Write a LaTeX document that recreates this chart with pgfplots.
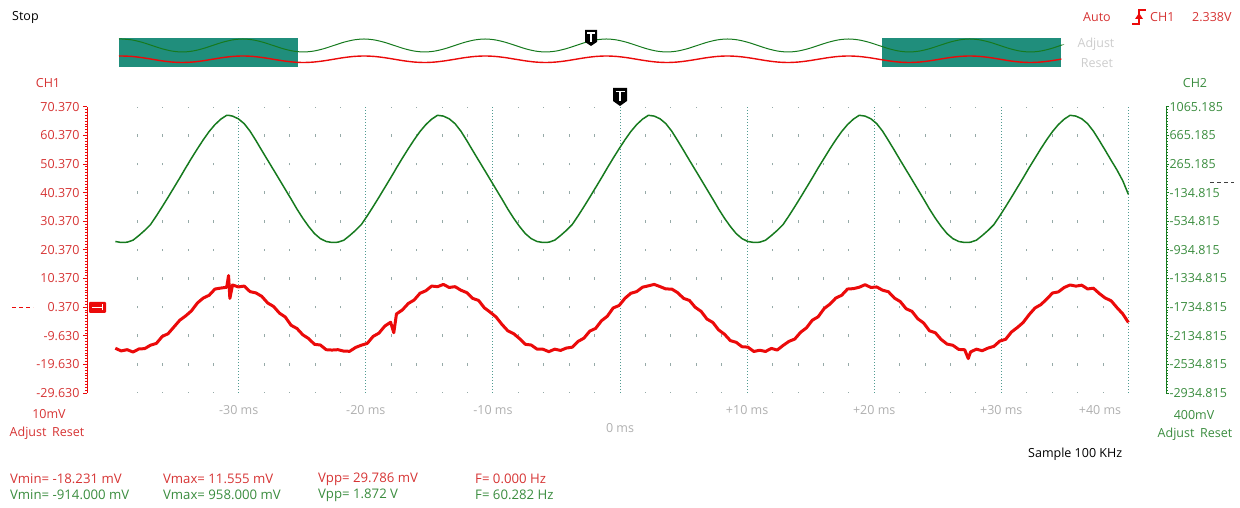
\documentclass[border=0pt]{standalone}
\usepackage{fontspec}
\setmainfont{Open Sans}
\usepackage{pgfplots}
\usepackage{pgfplotstable}
\pgfplotsset{compat=1.18}
\definecolor{chred}{RGB}{235,10,10}
\definecolor{chredtxt}{RGB}{214,52,52}
\definecolor{chgreen}{RGB}{22,122,30}
\definecolor{chgreentxt}{RGB}{58,140,62}
\definecolor{teal2}{RGB}{32,142,124}
\definecolor{gridc}{RGB}{150,170,168}
\definecolor{majgrid}{RGB}{80,155,145}
\definecolor{tgrey}{RGB}{175,175,175}
\definecolor{lgrey}{RGB}{205,205,205}
\newcommand{\uif}{\fontsize{12.5}{15}\selectfont}
\newcommand{\stf}{\fontsize{13.2}{15}\selectfont}

\pgfplotstableread{
t g r
-39.71 -818 -14.01
-39.25 -832 -14.93
-38.78 -828 -14.50
-38.32 -800 -15.32
-37.86 -735 -14.26
-37.40 -663 -14.13
-36.94 -581 -12.93
-36.48 -460 -12.31
-36.02 -332 -9.88
-35.56 -200 -8.92
-35.10 -65 -6.57
-34.64 70 -4.21
-34.18 210 -2.71
-33.72 345 -0.94
-33.25 478 1.83
-32.79 603 3.54
-32.33 718 4.50
-31.87 815 6.68
-31.41 891 7.02
-30.95 945 7.30
-30.80 945 11.40
-30.70 941 3.40
-30.49 934 8.10
-30.03 896 7.43
-29.57 828 7.71
-29.11 723 5.77
-28.65 593 5.33
-28.19 455 4.13
-27.72 317 1.80
-27.26 182 0.60
-26.80 47 -1.72
-26.34 -90 -3.10
-25.88 -225 -5.98
-25.42 -365 -7.10
-24.96 -493 -9.30
-24.50 -608 -10.63
-24.04 -708 -12.63
-23.58 -778 -12.87
-23.12 -818 -14.51
-22.66 -832 -14.63
-22.19 -828 -14.50
-21.73 -800 -15.02
-21.27 -735 -15.06
-20.81 -663 -13.73
-20.35 -581 -12.93
-19.89 -460 -12.31
-19.43 -332 -9.88
-18.97 -200 -8.72
-18.51 -65 -6.27
-18.05 70 -4.91
-17.80 145 -8.60
-17.59 210 -2.01
-17.13 345 -0.64
-16.66 478 1.63
-16.20 603 2.84
-15.74 718 5.20
-15.28 815 6.08
-14.82 891 7.72
-14.36 945 7.50
-13.90 934 8.30
-13.44 896 7.23
-12.98 828 7.51
-12.52 723 6.27
-12.06 593 5.43
-11.60 455 3.43
-11.13 317 2.70
-10.67 182 0.10
-10.21 47 -1.42
-9.75 -90 -3.10
-9.29 -225 -5.68
-8.83 -365 -7.90
-8.37 -493 -8.90
-7.91 -608 -10.63
-7.45 -708 -12.63
-6.99 -778 -12.87
-6.53 -818 -14.31
-6.07 -832 -14.33
-5.60 -828 -15.20
-5.14 -800 -14.32
-4.68 -735 -14.76
-4.22 -663 -13.93
-3.76 -581 -13.63
-3.30 -460 -11.61
-2.84 -332 -10.48
-2.38 -200 -8.02
-1.92 -65 -7.07
-1.46 70 -4.41
-1.00 210 -2.81
-0.54 345 0.06
-0.07 478 0.93
0.39 603 3.44
0.85 718 5.20
1.31 815 5.78
1.77 891 7.32
2.23 945 7.80
2.69 934 8.30
3.15 896 7.53
3.61 828 6.71
4.07 723 6.67
4.53 593 5.43
5.00 455 3.43
5.46 317 2.70
5.92 182 0.30
6.38 47 -1.12
6.84 -90 -3.80
7.30 -225 -4.98
7.76 -365 -7.60
8.22 -493 -9.10
8.68 -608 -11.33
9.14 -708 -11.93
9.60 -778 -13.47
10.06 -818 -13.61
10.53 -832 -15.13
10.99 -828 -14.70
11.45 -800 -15.12
11.91 -735 -14.06
12.37 -663 -14.63
12.83 -581 -13.03
13.29 -460 -11.61
13.75 -332 -10.78
14.21 -200 -8.42
14.67 -65 -6.87
15.13 70 -4.21
15.59 210 -3.01
16.06 345 -0.14
16.52 478 1.43
16.98 603 3.54
17.44 718 4.50
17.90 815 6.68
18.36 891 6.82
18.82 945 7.30
19.28 934 8.20
19.74 896 7.23
20.20 828 7.41
20.66 723 6.27
21.12 593 5.73
21.59 455 3.53
22.05 317 2.30
22.51 182 -0.20
22.97 47 -1.12
23.43 -90 -3.70
23.89 -225 -5.18
24.35 -365 -7.90
24.81 -493 -8.60
25.27 -608 -10.93
25.73 -708 -12.53
26.19 -778 -12.97
26.65 -818 -14.41
27.12 -832 -14.53
27.40 -830 -17.60
27.58 -828 -15.30
28.04 -800 -14.32
28.50 -735 -14.86
28.96 -663 -13.93
29.42 -581 -13.33
29.88 -460 -11.51
30.34 -332 -10.88
30.80 -200 -8.32
31.26 -65 -6.77
31.72 70 -5.01
32.18 210 -2.31
32.65 345 0.06
33.11 478 1.23
33.57 603 3.14
34.03 718 5.30
34.49 815 5.68
34.95 891 7.22
35.41 945 8.10
35.87 934 7.70
36.33 896 8.03
36.79 828 6.71
37.25 723 6.97
37.71 593 5.13
38.18 455 3.53
38.64 317 2.60
39.10 182 0.20
39.56 30 -2.00
40.00 -160 -5.00
}\maindata

\pgfplotstableread{
t g r
-64.50 27.9 10.9
-64.13 28 11
-62.75 27.1 10.56
-61.37 24.75 9.38
-59.98 21.5 7.75
-58.60 18.25 6.13
-57.22 15.9 4.94
-55.84 15 4.5
-54.45 15.9 4.94
-53.07 18.25 6.13
-51.69 21.5 7.75
-50.31 24.75 9.38
-48.92 27.1 10.56
-47.54 28 11
-46.16 27.1 10.56
-44.78 24.75 9.38
-43.39 21.5 7.75
-42.01 18.25 6.13
-40.63 15.9 4.94
-39.25 15 4.5
-37.86 15.9 4.94
-36.48 18.25 6.13
-35.10 21.5 7.75
-33.72 24.75 9.38
-32.33 27.1 10.56
-30.95 28 11
-29.57 27.1 10.56
-28.19 24.75 9.38
-26.80 21.5 7.75
-25.42 18.25 6.13
-24.04 15.9 4.94
-22.66 15 4.5
-21.27 15.9 4.94
-19.89 18.25 6.13
-18.51 21.5 7.75
-17.13 24.75 9.38
-15.74 27.1 10.56
-14.36 28 11
-12.98 27.1 10.56
-11.60 24.75 9.38
-10.21 21.5 7.75
-8.83 18.25 6.13
-7.45 15.9 4.94
-6.07 15 4.5
-4.68 15.9 4.94
-3.30 18.25 6.13
-1.92 21.5 7.75
-0.54 24.75 9.38
0.85 27.1 10.56
2.23 28 11
3.61 27.1 10.56
5.00 24.75 9.38
6.38 21.5 7.75
7.76 18.25 6.13
9.14 15.9 4.94
10.53 15 4.5
11.91 15.9 4.94
13.29 18.25 6.13
14.67 21.5 7.75
16.06 24.75 9.38
17.44 27.1 10.56
18.82 28 11
20.20 27.1 10.56
21.59 24.75 9.38
22.97 21.5 7.75
24.35 18.25 6.13
25.73 15.9 4.94
27.12 15 4.5
28.50 15.9 4.94
29.88 18.25 6.13
31.26 21.5 7.75
32.65 24.75 9.38
34.03 27.1 10.56
35.41 28 11
36.79 27.1 10.56
38.18 24.75 9.38
39.56 21.5 7.75
40.94 18.25 6.13
42.32 15.9 4.94
43.71 15 4.5
45.09 15.9 4.94
46.47 18.25 6.13
47.85 21.5 7.75
49.24 24.75 9.38
50.62 27.1 10.56
52.00 28 11
53.38 27.1 10.56
54.77 24.75 9.38
56.15 21.5 7.75
57.53 18.25 6.13
58.91 15.9 4.94
60.30 15 4.5
61.68 15.9 4.94
63.06 18.25 6.13
64.44 21.5 7.75
64.50 21.8 7.9
}\stripdata

\begin{document}
\begin{tikzpicture}[x=1pt,y=1pt,font=\uif]
\useasboundingbox (0pt,0pt) rectangle (1240pt,508pt);

% ---------- CH1 axis (left) with grid and red trace ----------
\begin{axis}[
  at={(87pt,115pt)}, anchor=south west, scale only axis,
  width=1079pt, height=286.3pt,
  xmin=-41.94, xmax=42.96, ymin=-29.63, ymax=70.37,
  axis x line*=bottom, axis y line*=left,
  axis line style={-},
  x axis line style={draw=none},
  y axis line style={chred, line width=0.8pt},
  xtick={-30,-20,-10,0,10,20,30,40},
  minor xtick={-38,-36,-34,-32,-28,-26,-24,-22,-18,-16,-14,-12,-8,-6,-4,-2,2,4,6,8,12,14,16,18,22,24,26,28,32,34,36,38},
  xticklabels={},
  xtick style={draw=none},
  minor x tick style={draw=none},
  xmajorgrids, xminorgrids,
  major x grid style={majgrid, line width=0.9pt, dash pattern=on 1pt off 2pt},
  minor x grid style={gridc, line width=0.8pt, dash pattern=on 2.6pt off 26.03pt, dash phase=1.3pt},
  ytick={-29.63,-19.63,-9.63,0.37,10.37,20.37,30.37,40.37,50.37,60.37,70.37},
  yticklabels={-29.630,-19.630,-9.630,0.370,10.370,20.370,30.370,40.370,50.370,60.370,70.370},
  minor y tick num=9,
  tick align=outside,
  y tick style={chred, line width=0.7pt},
  major tick length=4pt, minor tick length=2pt,
  yticklabel style={font=\uif, text=chredtxt},
  clip=false,
]
\addplot[chred, line width=3.0pt, line join=round] table[x=t,y=r]{\maindata};
\end{axis}

% ---------- CH2 axis (right) with green trace ----------
\begin{axis}[
  at={(87pt,115pt)}, anchor=south west, scale only axis,
  width=1079pt, height=286.3pt,
  xmin=-41.94, xmax=42.96, ymin=-2934.815, ymax=1065.185,
  axis x line=none, axis y line*=right,
  axis line style={-},
  y axis line style={chgreen, line width=0.8pt},
  ytick={-2934.815,-2534.815,-2134.815,-1734.815,-1334.815,-934.815,-534.815,-134.815,265.185,665.185,1065.185},
  yticklabels={-2934.815,-2534.815,-2134.815,-1734.815,-1334.815,-934.815,-534.815,-134.815,265.185,665.185,1065.185},
  minor y tick num=9,
  tick align=outside,
  y tick style={chgreen, line width=0.7pt},
  major tick length=3pt, minor tick length=1.5pt,
  yticklabel style={font=\uif, text=chgreentxt, xshift=-3pt},
]
\addplot[chgreen, line width=1.5pt, line join=round] table[x=t,y=g]{\maindata};
\end{axis}

% ---------- overview strip ----------
\begin{axis}[
  at={(119pt,441pt)}, anchor=south west, scale only axis,
  width=942pt, height=29pt,
  xmin=-64.5, xmax=64.5, ymin=0, ymax=29,
  hide axis, clip=false,
]
\fill[teal2] (axis cs:-64.5,0) rectangle (axis cs:-40,29);
\fill[teal2] (axis cs:40,0) rectangle (axis cs:64.5,29);
\addplot[chgreen, line width=1pt, smooth] table[x=t,y=g]{\stripdata};
\addplot[chred, line width=1.4pt, smooth] table[x=t,y=r]{\stripdata};
\end{axis}

% ---------- trigger markers ----------
\fill[black] (613pt,420pt) -- (627pt,420pt) -- (627pt,407pt) -- (620pt,402pt) -- (613pt,407pt) -- cycle;
\draw[white, line width=1.4pt] (615.5pt,416.5pt) -- (624.5pt,416.5pt);
\draw[white, line width=1.4pt] (620pt,416.5pt) -- (620pt,406.5pt);
\fill[black] (585pt,478pt) -- (597pt,478pt) -- (597pt,466pt) -- (591pt,462pt) -- (585pt,466pt) -- cycle;
\draw[white, line width=1.3pt] (587pt,475pt) -- (595pt,475pt);
\draw[white, line width=1.3pt] (591pt,475pt) -- (591pt,466pt);

% ---------- CH1 reference marker ----------
\fill[chred, rounded corners=1pt] (89pt,195pt) rectangle (106pt,206pt);
\draw[white, line width=0.9pt] (92pt,200.5pt) -- (102pt,200.5pt);
\draw[white, line width=0.9pt] (102pt,197.5pt) -- (102pt,203.5pt);
\draw[chred, line width=0.8pt, dash pattern=on 4pt off 3pt] (12pt,201pt) -- (33pt,201pt);
\draw[black!75, line width=0.8pt, dash pattern=on 4pt off 3pt] (1210pt,326pt) -- (1234pt,326pt);

% ---------- texts ----------
\node[anchor=west, inner sep=0] at (12pt,491pt) {Stop};
\node[text=chredtxt] at (48pt,425pt) {CH1};
\node[text=chgreentxt] at (1195pt,425pt) {CH2};
\node[anchor=west, inner sep=0, text=chredtxt] at (1083pt,491pt) {Auto};
\draw[chred, line width=1.6pt] (1132pt,484pt) -- (1139pt,484pt) -- (1139pt,498pt) -- (1146pt,498pt);
\fill[chred] (1135pt,489pt) -- (1139pt,495pt) -- (1143pt,489pt) -- cycle;
\node[anchor=west, inner sep=0, text=chredtxt] at (1150pt,491pt) {CH1};
\node[anchor=west, inner sep=0, text=chredtxt] at (1192pt,491pt) {2.338V};
\node[text=lgrey] at (1096pt,464pt) {Adjust};
\node[text=lgrey] at (1097pt,445pt) {Reset};
\node[text=chredtxt] at (49pt,94pt) {10mV};
\node[text=chredtxt] at (47pt,75pt) {Adjust\hspace{0.45em}Reset};
\node[text=chgreentxt] at (1194pt,93pt) {400mV};
\node[text=chgreentxt] at (1195pt,74pt) {Adjust\hspace{0.45em}Reset};
\node[text=tgrey] at (238.7pt,98pt) {-30 ms};
\node[text=tgrey] at (365.8pt,98pt) {-20 ms};
\node[text=tgrey] at (492.9pt,98pt) {-10 ms};
\node[text=tgrey] at (620pt,80pt) {0 ms};
\node[text=tgrey] at (747.1pt,98pt) {+10 ms};
\node[text=tgrey] at (874.2pt,98pt) {+20 ms};
\node[text=tgrey] at (1001.3pt,98pt) {+30 ms};
\node[text=tgrey] at (1100pt,98pt) {+40 ms};
\node[anchor=west, inner sep=0] at (1028pt,54pt) {Sample 100 KHz};
\begin{scope}[font=\stf]
\node[anchor=west, inner sep=0, text=chredtxt] at (10pt,29pt) {Vmin= -18.231 mV};
\node[anchor=west, inner sep=0, text=chredtxt] at (163pt,29pt) {Vmax= 11.555 mV};
\node[anchor=west, inner sep=0, text=chredtxt] at (318pt,29pt) {Vpp= 29.786 mV};
\node[anchor=west, inner sep=0, text=chredtxt] at (475pt,29pt) {F= 0.000 Hz};
\node[anchor=west, inner sep=0, text=chgreentxt] at (10pt,13pt) {Vmin= -914.000 mV};
\node[anchor=west, inner sep=0, text=chgreentxt] at (163pt,13pt) {Vmax= 958.000 mV};
\node[anchor=west, inner sep=0, text=chgreentxt] at (318pt,13pt) {Vpp= 1.872 V};
\node[anchor=west, inner sep=0, text=chgreentxt] at (475pt,13pt) {F= 60.282 Hz};
\end{scope}
\end{tikzpicture}
\end{document}
